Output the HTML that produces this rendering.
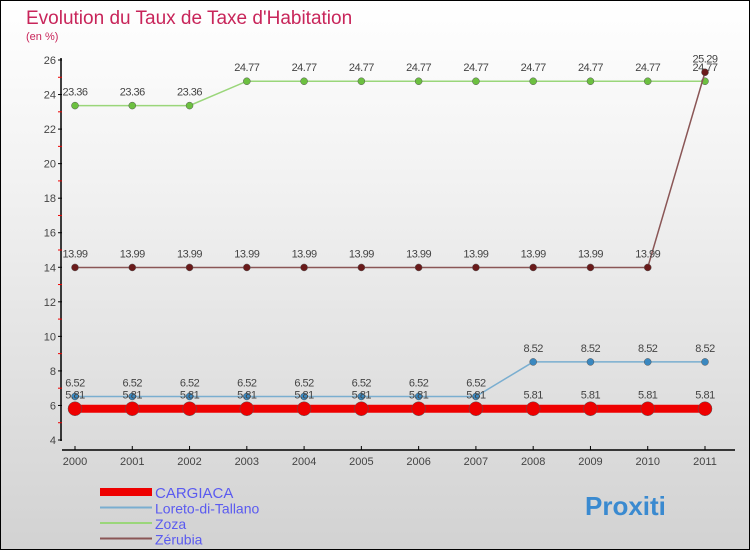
<!DOCTYPE html>
<html><head><meta charset="utf-8"><style>
body{margin:0}
#c{width:750px;height:550px;position:relative;box-sizing:border-box;border:1px solid #000;background:linear-gradient(#ffffff,#f3f3f3 30%,#d2d2d2);font-family:"Liberation Sans",sans-serif;overflow:hidden}
</style></head><body>
<div id="c">
<svg id="s" width="750" height="550" style="position:absolute;left:-1px;top:-1px">
<text x="26" y="24" font-size="19" fill="#c8255a">Evolution du Taux de Taxe d'Habitation</text>
<text x="26" y="40" font-size="11" fill="#c8255a">(en %)</text>
</svg>
</div>
<script>
const years=["2000","2001","2002","2003","2004","2005","2006","2007","2008","2009","2010","2011"];
const cargiaca=[5.81,5.81,5.81,5.81,5.81,5.81,5.81,5.81,5.81,5.81,5.81,5.81];
const loreto=[6.52,6.52,6.52,6.52,6.52,6.52,6.52,6.52,8.52,8.52,8.52,8.52];
const zoza=[23.36,23.36,23.36,24.77,24.77,24.77,24.77,24.77,24.77,24.77,24.77,24.77];
const zerubia=[13.99,13.99,13.99,13.99,13.99,13.99,13.99,13.99,13.99,13.99,13.99,25.29];
const yTicks=[4,6,8,10,12,14,16,18,20,22,24,26];
const NS="http://www.w3.org/2000/svg";
const s=document.getElementById('s');
const X=i=>75+i*(705-75)/11;
const Y=v=>440-(v-4)*(380/22);
function el(t,a,txt){const e=document.createElementNS(NS,t);for(const k in a)e.setAttribute(k,a[k]);if(txt!==undefined)e.textContent=txt;s.appendChild(e);return e;}
let e=el('line',{x1:61,y1:58,x2:61,y2:441,stroke:'#000','stroke-width':1.5});


e=el('line',{x1:62,y1:450,x2:735,y2:450,stroke:'#000','stroke-width':1.5});


yTicks.forEach(v=>{
 el('line',{x1:58,y1:Y(v),x2:62,y2:Y(v),stroke:'#000'});
 if(v<26){el('line',{x1:58,y1:Y(v+1),x2:62,y2:Y(v+1),stroke:'#e00'});}
 const t=el('text',{x:56,y:Y(v)+4,'font-size':11,fill:'#444','text-anchor':'end'},v);
 
 
});
years.forEach((y,i)=>{
 el('line',{x1:X(i),y1:446,x2:X(i),y2:450,stroke:'#000'});
 const t=el('text',{x:X(i),y:465,'font-size':11,fill:'#444','text-anchor':'middle'},y);
 
 
});
function series(d,col,dot,w,r,name,lab){
 const p=el('polyline',{points:d.map((v,i)=>X(i)+','+Y(v)).join(' '),fill:'none',stroke:col,'stroke-width':w});
 
 
 d.forEach((v,i)=>{
  const c=el('circle',{cx:X(i),cy:Y(v),r:r,fill:dot,stroke:'#555','stroke-width':0.5});
  
  
  if(lab){const t=el('text',{x:X(i),y:Y(v)-10,'font-size':11,fill:'#444','text-anchor':'middle','letter-spacing':'-0.5'},v);
  
  }
 });
}
series(zoza,'#9ad67a','#6cc040',1.5,3.5,'zoza',true);
series(zerubia,'#8a5656','#6a1a1a',1.5,3.5,'zerubia',true);
series(loreto,'#7aaed0','#3a88c0',1.5,3.5,'loreto',true);
series(cargiaca,'#e00','#e00',8,7,'cargiaca',true);
const leg=[["CARGIACA","#e00",8],["Loreto-di-Tallano","#7aaed0",2],["Zoza","#9ad67a",2],["Zérubia","#8a5656",2]];
leg.forEach((l,i)=>{
 const y=492+i*15.5;
 const ln=el('line',{x1:100,y1:y,x2:152,y2:y,stroke:l[1],'stroke-width':l[2]});
 
 
 const t=el('text',{x:155,y:y+6,'font-size':i==0?15:14,fill:'#5a5af0'},l[0]);
 
 
});
const px=el('text',{x:585,y:515,'font-size':26,'font-weight':'bold',fill:'#3a8ad0'},'Proxiti');


</script>
</body></html>
